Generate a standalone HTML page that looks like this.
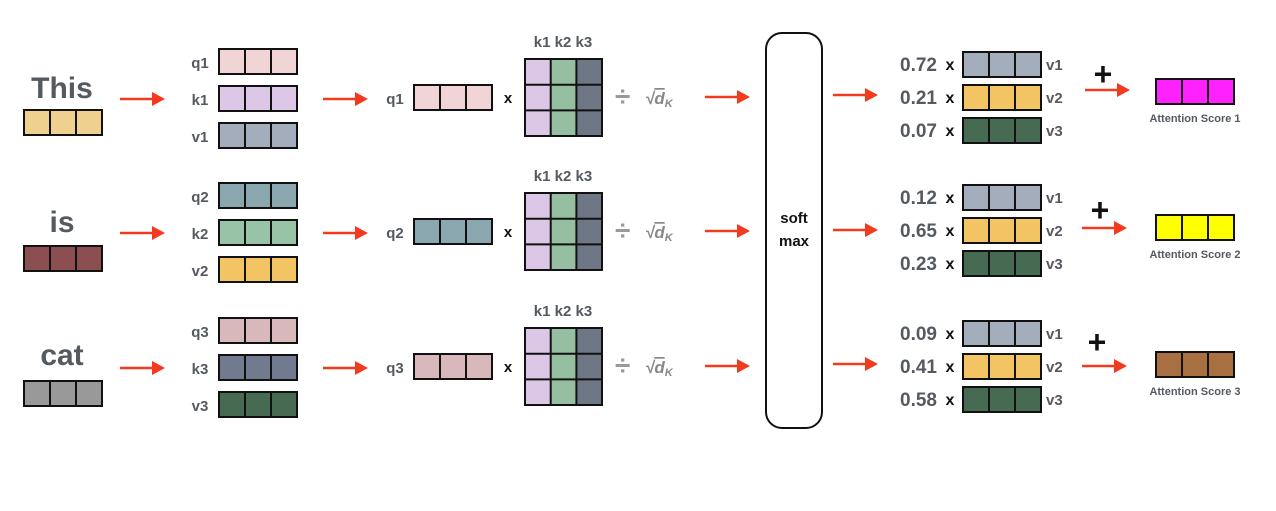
<!DOCTYPE html>
<html><head><meta charset="utf-8"><style>
html,body{margin:0;padding:0;background:#fff;}
svg{display:block;}
text{font-family:"Liberation Sans",sans-serif;font-weight:bold;}
.g{fill:#555a60;}
.c{stroke:#111;stroke-width:2;}
</style></head><body>
<svg width="1276" height="511" viewBox="0 0 1276 511" xmlns="http://www.w3.org/2000/svg">
<defs>
<g id="arr"><line x1="0" y1="0" x2="34" y2="0" stroke="#f43a1e" stroke-width="2.5"/><polygon points="32,-7 45,0 32,7" fill="#f43a1e"/></g>
<g id="grid3"><rect x="0" y="0" width="78" height="25" fill="none" class="c"/><line x1="26" y1="0" x2="26" y2="25" class="c"/><line x1="52" y1="0" x2="52" y2="25" class="c"/></g>
<g id="mat">
<rect x="0" y="0" width="25.7" height="77" fill="#dcc8e6"/><rect x="25.7" y="0" width="25.7" height="77" fill="#96bea0"/><rect x="51.4" y="0" width="25.6" height="77" fill="#6f7686"/>
<rect x="0" y="0" width="77" height="77" fill="none" class="c"/>
<line x1="25.7" y1="0" x2="25.7" y2="77" class="c"/><line x1="51.4" y1="0" x2="51.4" y2="77" class="c"/>
<line x1="0" y1="25.7" x2="77" y2="25.7" class="c"/><line x1="0" y1="51.4" x2="77" y2="51.4" class="c"/>
</g>
<g id="sq"><text x="0" y="0" font-size="28" fill="#999" font-weight="normal" font-family="Liberation Sans,sans-serif">÷</text><text x="30" y="-2" font-size="17" fill="#888" font-style="italic" font-weight="normal" font-family="Liberation Serif,serif">√<tspan text-decoration="overline">d</tspan><tspan font-size="11" dy="3">K</tspan></text></g>
</defs>

<!-- shared pieces for each row -->
<!-- Row 1 -->
<g>
<text x="62" y="98" font-size="30" text-anchor="middle" class="g">This</text>
<rect x="24" y="110" width="78" height="25" fill="#f0d08e"/><use href="#grid3" x="24" y="110"/>
<use href="#arr" x="120" y="99"/>
<text x="200" y="68" font-size="15" text-anchor="middle" class="g">q1</text>
<rect x="219" y="49" width="78" height="25" fill="#f0d4d6"/><use href="#grid3" x="219" y="49"/>
<text x="200" y="105" font-size="15" text-anchor="middle" class="g">k1</text>
<rect x="219" y="86" width="78" height="25" fill="#dcc8e6"/><use href="#grid3" x="219" y="86"/>
<text x="200" y="142" font-size="15" text-anchor="middle" class="g">v1</text>
<rect x="219" y="123" width="78" height="25" fill="#a3adbc"/><use href="#grid3" x="219" y="123"/>
<use href="#arr" x="323" y="99"/>
<text x="395" y="104" font-size="15" text-anchor="middle" class="g">q1</text>
<rect x="414" y="85" width="78" height="25" fill="#f0d4d6"/><use href="#grid3" x="414" y="85"/>
<text x="508" y="103" font-size="15" text-anchor="middle" fill="#111">x</text>
<text x="563" y="47" font-size="15" text-anchor="middle" class="g">k1 k2 k3</text>
<use href="#mat" x="525" y="59"/>
<use href="#sq" x="615" y="106"/>
<use href="#arr" x="705" y="97"/>
</g>
<!-- Row 2 -->
<g transform="translate(0,134)">
<text x="62" y="98" font-size="30" text-anchor="middle" class="g">is</text>
<rect x="24" y="112" width="78" height="25" fill="#8b4f52"/><use href="#grid3" x="24" y="112"/>
<use href="#arr" x="120" y="99"/>
<text x="200" y="68" font-size="15" text-anchor="middle" class="g">q2</text>
<rect x="219" y="49" width="78" height="25" fill="#8aa6ae"/><use href="#grid3" x="219" y="49"/>
<text x="200" y="105" font-size="15" text-anchor="middle" class="g">k2</text>
<rect x="219" y="86" width="78" height="25" fill="#98c3a6"/><use href="#grid3" x="219" y="86"/>
<text x="200" y="142" font-size="15" text-anchor="middle" class="g">v2</text>
<rect x="219" y="123" width="78" height="25" fill="#f2c464"/><use href="#grid3" x="219" y="123"/>
<use href="#arr" x="323" y="99"/>
<text x="395" y="104" font-size="15" text-anchor="middle" class="g">q2</text>
<rect x="414" y="85" width="78" height="25" fill="#8aa6ae"/><use href="#grid3" x="414" y="85"/>
<text x="508" y="103" font-size="15" text-anchor="middle" fill="#111">x</text>
<text x="563" y="47" font-size="15" text-anchor="middle" class="g">k1 k2 k3</text>
<use href="#mat" x="525" y="59"/>
<use href="#sq" x="615" y="106"/>
<use href="#arr" x="705" y="97"/>
</g>
<!-- Row 3 -->
<g transform="translate(0,269)">
<text x="62" y="96" font-size="30" text-anchor="middle" class="g">cat</text>
<rect x="24" y="112" width="78" height="25" fill="#999999"/><use href="#grid3" x="24" y="112"/>
<use href="#arr" x="120" y="99"/>
<text x="200" y="68" font-size="15" text-anchor="middle" class="g">q3</text>
<rect x="219" y="49" width="78" height="25" fill="#d8b8bb"/><use href="#grid3" x="219" y="49"/>
<text x="200" y="105" font-size="15" text-anchor="middle" class="g">k3</text>
<rect x="219" y="86" width="78" height="25" fill="#717a8e"/><use href="#grid3" x="219" y="86"/>
<text x="200" y="142" font-size="15" text-anchor="middle" class="g">v3</text>
<rect x="219" y="123" width="78" height="25" fill="#466b52"/><use href="#grid3" x="219" y="123"/>
<use href="#arr" x="323" y="99"/>
<text x="395" y="104" font-size="15" text-anchor="middle" class="g">q3</text>
<rect x="414" y="85" width="78" height="25" fill="#d8b8bb"/><use href="#grid3" x="414" y="85"/>
<text x="508" y="103" font-size="15" text-anchor="middle" fill="#111">x</text>
<text x="563" y="47" font-size="15" text-anchor="middle" class="g">k1 k2 k3</text>
<use href="#mat" x="525" y="59"/>
<use href="#sq" x="615" y="106"/>
<use href="#arr" x="705" y="97"/>
</g>

<!-- softmax -->
<rect x="766" y="33" width="56" height="395" rx="16" fill="none" stroke="#111" stroke-width="2"/>
<text x="794" y="223" font-size="15" text-anchor="middle" fill="#111">soft</text>
<text x="794" y="246" font-size="15" text-anchor="middle" fill="#111">max</text>

<!-- right rows -->
<g id="r1">
<use href="#arr" x="833" y="95"/>
<text x="937" y="71" font-size="19" text-anchor="end" class="g">0.72</text>
<text x="937" y="104" font-size="19" text-anchor="end" class="g">0.21</text>
<text x="937" y="137" font-size="19" text-anchor="end" class="g">0.07</text>
<text x="950" y="70" font-size="16" text-anchor="middle" fill="#111">x</text>
<text x="950" y="103" font-size="16" text-anchor="middle" fill="#111">x</text>
<text x="950" y="136" font-size="16" text-anchor="middle" fill="#111">x</text>
<rect x="963" y="52" width="78" height="25" fill="#a3adbc"/><use href="#grid3" x="963" y="52"/>
<rect x="963" y="85" width="78" height="25" fill="#f2c464"/><use href="#grid3" x="963" y="85"/>
<rect x="963" y="118" width="78" height="25" fill="#466b52"/><use href="#grid3" x="963" y="118"/>
<text x="1046" y="70" font-size="15" class="g">v1</text>
<text x="1046" y="103" font-size="15" class="g">v2</text>
<text x="1046" y="136" font-size="15" class="g">v3</text>
<text x="1103" y="85" font-size="32" text-anchor="middle" fill="#111">+</text>
<use href="#arr" x="1085" y="90"/>
<rect x="1156" y="79" width="78" height="25" fill="#ff22ff"/><use href="#grid3" x="1156" y="79"/>
<text x="1195" y="122" font-size="11" text-anchor="middle" class="g">Attention Score 1</text>
</g>
<g transform="translate(0,133)">
<use href="#arr" x="833" y="97"/>
<text x="937" y="71" font-size="19" text-anchor="end" class="g">0.12</text>
<text x="937" y="104" font-size="19" text-anchor="end" class="g">0.65</text>
<text x="937" y="137" font-size="19" text-anchor="end" class="g">0.23</text>
<text x="950" y="70" font-size="16" text-anchor="middle" fill="#111">x</text>
<text x="950" y="103" font-size="16" text-anchor="middle" fill="#111">x</text>
<text x="950" y="136" font-size="16" text-anchor="middle" fill="#111">x</text>
<rect x="963" y="52" width="78" height="25" fill="#a3adbc"/><use href="#grid3" x="963" y="52"/>
<rect x="963" y="85" width="78" height="25" fill="#f2c464"/><use href="#grid3" x="963" y="85"/>
<rect x="963" y="118" width="78" height="25" fill="#466b52"/><use href="#grid3" x="963" y="118"/>
<text x="1046" y="70" font-size="15" class="g">v1</text>
<text x="1046" y="103" font-size="15" class="g">v2</text>
<text x="1046" y="136" font-size="15" class="g">v3</text>
<text x="1100" y="88" font-size="32" text-anchor="middle" fill="#111">+</text>
<use href="#arr" x="1082" y="95"/>
<rect x="1156" y="82" width="78" height="25" fill="#ffff00"/><use href="#grid3" x="1156" y="82"/>
<text x="1195" y="125" font-size="11" text-anchor="middle" class="g">Attention Score 2</text>
</g>
<g transform="translate(0,269)">
<use href="#arr" x="833" y="95"/>
<text x="937" y="71" font-size="19" text-anchor="end" class="g">0.09</text>
<text x="937" y="104" font-size="19" text-anchor="end" class="g">0.41</text>
<text x="937" y="137" font-size="19" text-anchor="end" class="g">0.58</text>
<text x="950" y="70" font-size="16" text-anchor="middle" fill="#111">x</text>
<text x="950" y="103" font-size="16" text-anchor="middle" fill="#111">x</text>
<text x="950" y="136" font-size="16" text-anchor="middle" fill="#111">x</text>
<rect x="963" y="52" width="78" height="25" fill="#a3adbc"/><use href="#grid3" x="963" y="52"/>
<rect x="963" y="85" width="78" height="25" fill="#f2c464"/><use href="#grid3" x="963" y="85"/>
<rect x="963" y="118" width="78" height="25" fill="#466b52"/><use href="#grid3" x="963" y="118"/>
<text x="1046" y="70" font-size="15" class="g">v1</text>
<text x="1046" y="103" font-size="15" class="g">v2</text>
<text x="1046" y="136" font-size="15" class="g">v3</text>
<text x="1097" y="84" font-size="32" text-anchor="middle" fill="#111">+</text>
<use href="#arr" x="1082" y="97"/>
<rect x="1156" y="83" width="78" height="25" fill="#a87040"/><use href="#grid3" x="1156" y="83"/>
<text x="1195" y="126" font-size="11" text-anchor="middle" class="g">Attention Score 3</text>
</g>
</svg>
</body></html>
